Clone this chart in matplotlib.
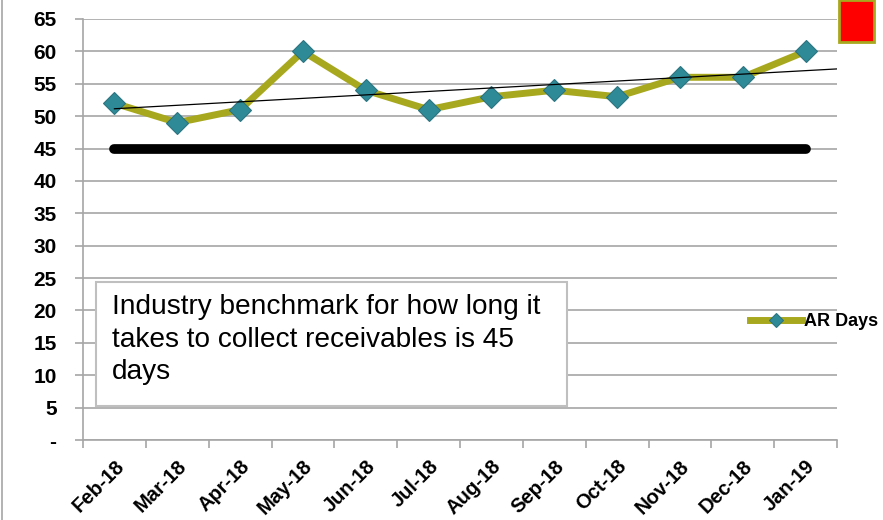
import numpy as np
import matplotlib
matplotlib.use('Agg')
from matplotlib import pyplot as plt
from matplotlib.patches import Rectangle
from matplotlib.lines import Line2D

plt.rcParams['font.family'] = ['Liberation Sans', 'DejaVu Sans']

# datos
meses = ['Feb-18', 'Mar-18', 'Apr-18', 'May-18', 'Jun-18', 'Jul-18',
         'Aug-18', 'Sep-18', 'Oct-18', 'Nov-18', 'Dec-18', 'Jan-19']
ar_days = [52, 49, 51, 60, 54, 51, 53, 54, 53, 56, 56, 60]
benchmark = 45
yticks = [0, 5, 10, 15, 20, 25, 30, 35, 40, 45, 50, 55, 60, 65]
ylabels = ['-'] + [str(v) for v in yticks[1:]]
nota = 'Industry benchmark for how long it\ntakes to collect receivables is 45\ndays'

oliva = '#A8A81E'
azul = '#2F8A98'
gris = '#A6A6A6'

fig = plt.figure(figsize=(8.83, 5.2), dpi=100)
ax = fig.add_axes([83/883, 1-440/520, (837-83)/883, (440-19)/520])

x = np.arange(len(meses))

# linea de referencia (45 dias)
ax.plot([x[0], x[-1]], [benchmark, benchmark], color='black', lw=7,
        solid_capstyle='round', zorder=3)

# serie
ax.plot(x, ar_days, color=oliva, lw=5, marker='D', ms=11,
        markerfacecolor=azul, markeredgecolor='#2A7480', markeredgewidth=0.8,
        zorder=4, label='AR Days')

# tendencia lineal (como excel, con medio periodo hacia adelante)
p = np.polyfit(x, ar_days, 1)
xt = np.array([x[0], x[-1] + 0.5])
ax.plot(xt, np.polyval(p, xt), color='black', lw=0.9, zorder=5)

ax.set_xlim(-0.5, len(meses) - 0.5)
ax.set_ylim(0, 65)
ax.set_yticks(yticks)
ax.set_yticklabels(ylabels, fontsize=15, fontweight='bold')
ax.yaxis.grid(True, color=gris, lw=1.2)
ax.set_axisbelow(True)

ax.set_xticks(np.arange(-0.5, len(meses)), minor=False)
ax.set_xticklabels([])
ax.set_xticks(x, minor=True)
ax.set_xticklabels(meses, minor=True, rotation=45, ha='right',
                   rotation_mode='anchor', fontsize=14.5, fontweight='bold')
ax.tick_params(axis='x', which='major', length=6, color=gris, width=1.2)
ax.tick_params(axis='x', which='minor', length=0, pad=12)
ax.tick_params(axis='y', length=6, color=gris, width=1.2, pad=13)

for s in ['top', 'right']:
    ax.spines[s].set_visible(False)
ax.spines['left'].set_color(gris)
ax.spines['bottom'].set_color(gris)
ax.spines['left'].set_linewidth(1.2)
ax.spines['bottom'].set_linewidth(1.2)

# cuadro de texto
fig.patches.append(Rectangle((96/883, 1-406/520), (567-96)/883, (406-282)/520,
                             transform=fig.transFigure, facecolor='white',
                             edgecolor='#BFBFBF', lw=1.5, zorder=6))
fig.text(112/883, 1-294/520, nota, fontsize=20.2, va='top', ha='left',
         linespacing=1.33, zorder=7)

# leyenda
leg = ax.legend(loc='center left', bbox_to_anchor=(741/883, 1-322/520),
                bbox_transform=fig.transFigure, frameon=False, borderpad=0,
                handlelength=2.9, handletextpad=0.1, prop={'size': 13, 'weight': 'bold'})
leg.set_zorder(8)
for h in leg.get_lines():
    h.set_markersize(7)

# rectangulo rojo arriba a la derecha
fig.patches.append(Rectangle((839/883, 1-42/520), 35/883, 42/520,
                             transform=fig.transFigure, facecolor='#FF0000',
                             edgecolor=oliva, lw=2, zorder=6))
# borde izquierdo
fig.lines.append(Line2D([2/883, 2/883], [0, 1], transform=fig.transFigure,
                        color=gris, lw=1.2))

fig.savefig('out.png', dpi=100)
